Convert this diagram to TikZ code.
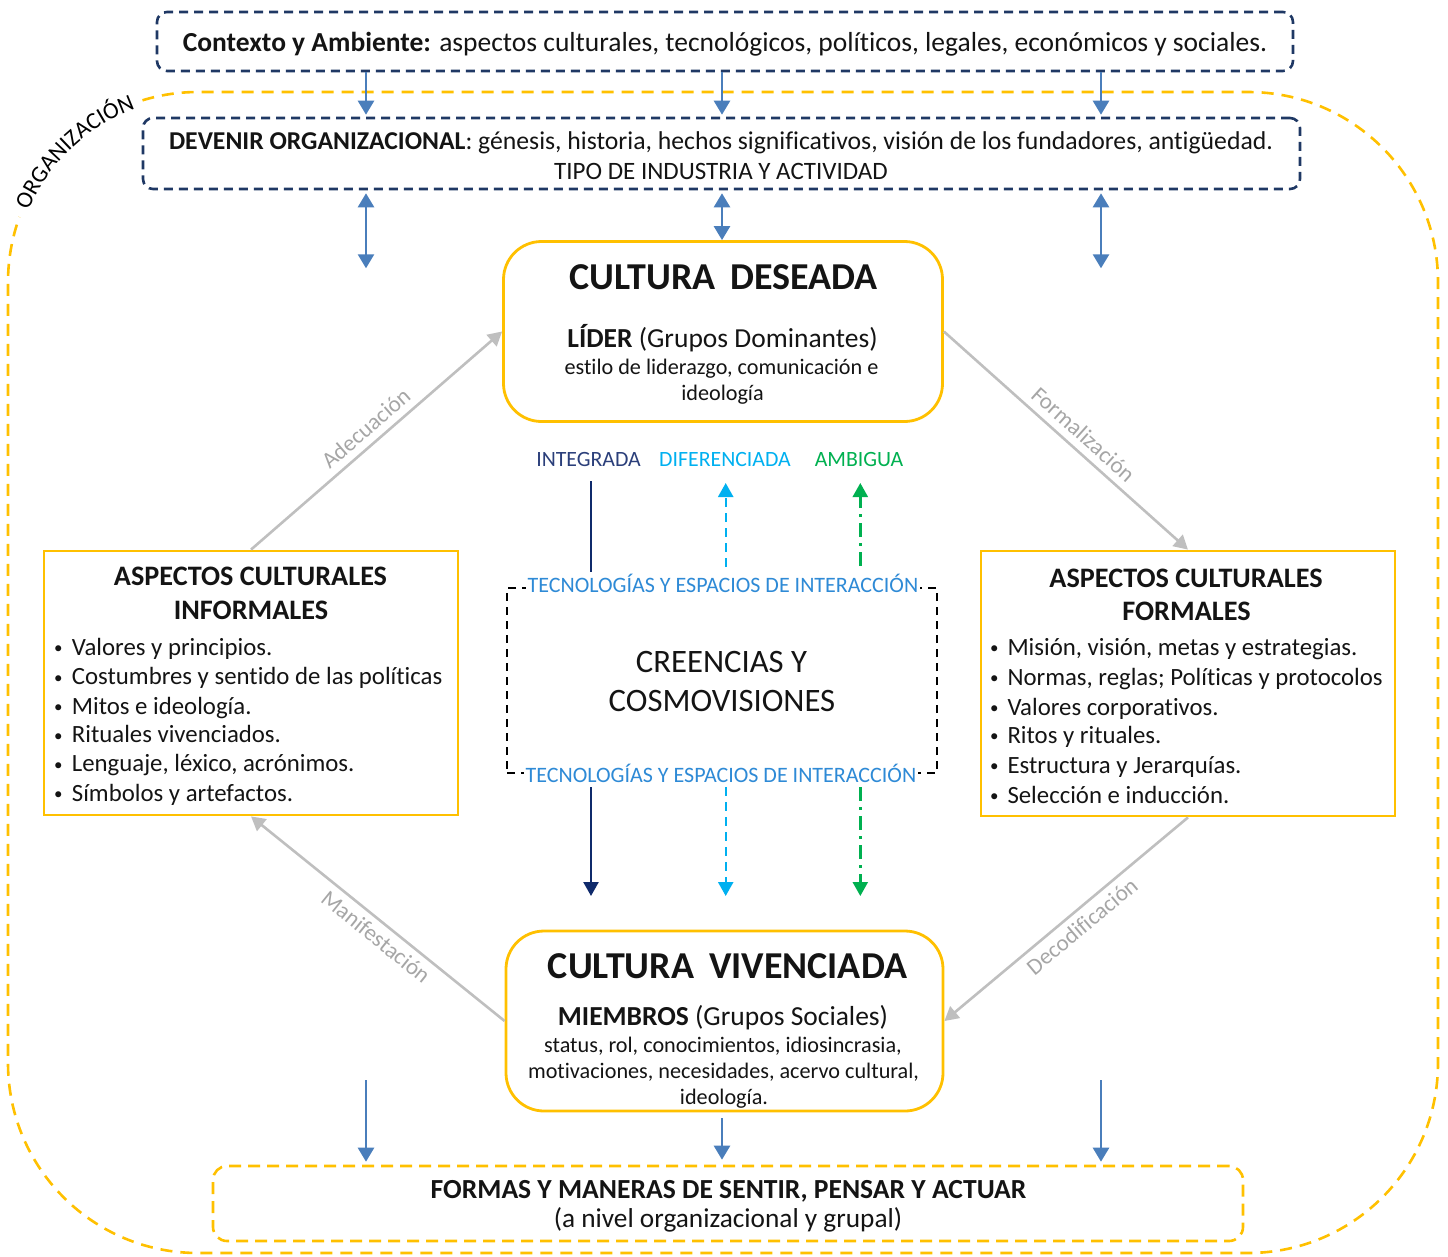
\documentclass[tikz,border=0pt]{standalone}
\usepackage{fontspec}
\setmainfont{Carlito}[Ligatures={NoCommon,NoContextual}]
\usetikzlibrary{arrows.meta,decorations.text}

\definecolor{amber}{HTML}{FFC000}
\definecolor{navydash}{HTML}{1F3864}
\definecolor{flowblue}{HTML}{4A7EBB}
\definecolor{intnavy}{HTML}{0F2A6B}
\definecolor{intlabel}{HTML}{2B3F7A}
\definecolor{difblue}{HTML}{00B0F0}
\definecolor{ambgreen}{HTML}{00B050}
\definecolor{tecblue}{HTML}{2E8AD6}
\definecolor{linkgray}{HTML}{BFBFBF}
\definecolor{linktext}{HTML}{A6A6A6}
\definecolor{ink}{HTML}{141414}

\newcommand\fsz[1]{\fontsize{#1pt}{#1pt}\selectfont}
\newcommand\orgfont{\fontsize{23.5pt}{23.5pt}\selectfont}
\newcommand\bulletmark{\raisebox{1.2pt}{\fsz{17}•}}

\begin{document}
\begin{tikzpicture}[x=1pt,y=-1pt,
  navybox/.style={draw=navydash, line width=2.6pt, dash pattern=on 9pt off 6pt, rounded corners=10pt, inner sep=0pt},
  goldbox/.style={draw=amber, line width=2.8pt, rounded corners=38pt, inner sep=0pt},
  squarebox/.style={draw=amber, line width=2.8pt, inner sep=0pt},
  formasbox/.style={draw=amber, line width=2.6pt, dash pattern=on 12pt off 7pt, rounded corners=14pt, inner sep=0pt},
  beliefbox/.style={draw=black, line width=2pt, dash pattern=on 8pt off 6pt, inner sep=0pt},
  orgline/.style={draw=amber, line width=2.6pt, dash pattern=on 12pt off 8pt},
  txt/.style={inner sep=0pt, anchor=base, text=ink},
  bul/.style={inner sep=0pt, anchor=base west, text=ink, font=\fsz{24.8}},
  flow/.style={draw=flowblue, line width=2.6pt, -{Triangle[width=16pt,length=14pt]}},
  flowboth/.style={draw=flowblue, line width=2.6pt, {Triangle[width=16pt,length=14pt]}-{Triangle[width=16pt,length=14pt]}},
  link/.style={draw=linkgray, line width=2.6pt, -{Triangle[width=15pt,length=14pt]}},
  linklabel/.style={text=linktext, font=\fsz{23}, inner sep=2pt, sloped},
  intline/.style={draw=intnavy, line width=2.4pt},
  difline/.style={draw=difblue, line width=2.4pt, dash pattern=on 9pt off 6pt},
  ambline/.style={draw=ambgreen, line width=2.4pt, dash pattern=on 14pt off 6pt on 3pt off 6pt}
]
\useasboundingbox (0,0) rectangle (1448,1256);

% ---- organization boundary (gap left for its label) ----
\draw[orgline] (142.5,100.3) arc[start angle=253,end angle=270,radius=190]
  -- (1248,92) arc[start angle=270,end angle=360,radius=190]
  -- (1438,1063) arc[start angle=0,end angle=90,radius=190]
  -- (198,1253) arc[start angle=90,end angle=180,radius=190]
  -- (8,282) arc[start angle=180,end angle=200,radius=190];
\path[decorate, decoration={text along path, text={|\orgfont|ORGANIZACIÓN}, text align=center}]
  (25.1,219.1) arc[start angle=200,end angle=253,radius=184];

% ---- column guides for the vertical flows ----
\coordinate (c1) at (366,0);
\coordinate (c2) at (722,0);
\coordinate (c3) at (1101,0);

% ---- context and history ----
\node[navybox, minimum width=1136pt, minimum height=59pt] (ctx) at (725,41.5) {};
\node[txt, font=\fsz{27.5}] (ctxtext) at (725,51.5)
  {\textbf{Contexto y Ambiente:} aspectos culturales, tecnológicos, políticos, legales, económicos y sociales.};

\node[navybox, minimum width=1157pt, minimum height=71pt] (dev) at (721.5,153.5) {};
\node[txt, font=\fsz{25.7}] (devA) at (721,149)
  {\textbf{DEVENIR ORGANIZACIONAL}: génesis, historia, hechos significativos, visión de los fundadores, antigüedad.};
\node[txt, font=\fsz{25}] (devB) at (721,179) {TIPO DE INDUSTRIA Y ACTIVIDAD};

% ---- desired culture ----
\node[goldbox, minimum width=439pt, minimum height=180pt] (deseada) at (723,331.5) {};
\node[txt, font=\fsz{38}\bfseries] (desT) at (723.5,289) {CULTURA\, DESEADA};
\node[txt, font=\fsz{27.5}] (desL) at (722.5,347) {\textbf{LÍDER} (Grupos Dominantes)};
\node[txt, font=\fsz{22.2}] (desA) at (721.5,374) {estilo de liderazgo, comunicación e};
\node[txt, font=\fsz{22.2}] (desB) at (722.5,400) {ideología};

% ---- lived culture ----
\node[goldbox, minimum width=437pt, minimum height=180pt] (viv) at (724.5,1021) {};
\node[txt, font=\fsz{38}\bfseries] (vivT) at (727.5,978) {CULTURA\, VIVENCIADA};
\node[txt, font=\fsz{27.5}] (vivM) at (723,1025) {\textbf{MIEMBROS} (Grupos Sociales)};
\node[txt, font=\fsz{22.2}] (vivA) at (723,1052.7) {status, rol, conocimientos, idiosincrasia,};
\node[txt, font=\fsz{22.2}] (vivB) at (723.5,1078.3) {motivaciones, necesidades, acervo cultural,};
\node[txt, font=\fsz{22.2}] (vivC) at (724,1104) {ideología.};

% ---- informal aspects ----
\node[squarebox, minimum width=414pt, minimum height=264pt] (informal) at (251,683) {};
\node[txt, font=\fsz{28.2}\bfseries] (infT1) at (250.5,585) {ASPECTOS CULTURALES};
\node[txt, font=\fsz{28.2}\bfseries] (infT2) at (251,619) {INFORMALES};
\node[bul] (inf1) at (54,655)   {\makebox[17.7pt][l]{\bulletmark}Valores y principios.};
\node[bul] (inf2) at (54,684.3) {\makebox[17.7pt][l]{\bulletmark}Costumbres y sentido de las políticas};
\node[bul] (inf3) at (54,714)   {\makebox[17.7pt][l]{\bulletmark}Mitos e ideología.};
\node[bul] (inf4) at (54,742.7) {\makebox[17.7pt][l]{\bulletmark}Rituales vivenciados.};
\node[bul] (inf5) at (54,771.7) {\makebox[17.7pt][l]{\bulletmark}Lenguaje, léxico, acrónimos.};
\node[bul] (inf6) at (54,801)   {\makebox[17.7pt][l]{\bulletmark}Símbolos y artefactos.};

% ---- formal aspects ----
\node[squarebox, minimum width=414pt, minimum height=265pt] (formal) at (1188,683.5) {};
\node[txt, font=\fsz{28.2}\bfseries] (forT1) at (1186,587) {ASPECTOS CULTURALES};
\node[txt, font=\fsz{28.2}\bfseries] (forT2) at (1186.5,620) {FORMALES};
\node[bul] (for1) at (990,655) {\makebox[17.3pt][l]{\bulletmark}Misión, visión, metas y estrategias.};
\node[bul] (for2) at (990,685) {\makebox[17.3pt][l]{\bulletmark}Normas, reglas; Políticas y protocolos};
\node[bul] (for3) at (990,715) {\makebox[17.3pt][l]{\bulletmark}Valores corporativos.};
\node[bul] (for4) at (990,743) {\makebox[17.3pt][l]{\bulletmark}Ritos y rituales.};
\node[bul] (for5) at (990,773) {\makebox[17.3pt][l]{\bulletmark}Estructura y Jerarquías.};
\node[bul] (for6) at (990,803) {\makebox[17.3pt][l]{\bulletmark}Selección e inducción.};

% ---- beliefs core ----
\node[beliefbox, minimum width=430pt, minimum height=185pt] (belief) at (722,680.5) {};
\node[txt, font=\fsz{22}, text=tecblue, fill=white, inner xsep=2pt] (tecTop) at (723,592)
  {TECNOLOGÍAS Y ESPACIOS DE INTERACCIÓN};
\node[txt, font=\fsz{22}, text=tecblue, fill=white, inner xsep=2pt] (tecBot) at (721,782.7)
  {TECNOLOGÍAS Y ESPACIOS DE INTERACCIÓN};
\node[txt, font=\fsz{32.7}] (creA) at (721.5,672) {CREENCIAS Y};
\node[txt, font=\fsz{32.7}] (creB) at (722,711) {COSMOVISIONES};

% ---- culture types ----
\node[txt, font=\fsz{21.8}, text=intlabel] (lInt) at (588.5,466) {INTEGRADA};
\node[txt, font=\fsz{21.8}, text=difblue] (lDif) at (725,466) {DIFERENCIADA};
\node[txt, font=\fsz{21.8}, text=ambgreen] (lAmb) at (859,466) {AMBIGUA};

\coordinate (intU1) at (591,481);   \coordinate (intU2) at (591,572);
\coordinate (difU1) at (725.7,567); \coordinate (difU2) at (725.7,483);
\coordinate (ambU1) at (860.3,566); \coordinate (ambU2) at (860.3,483);
\coordinate (intD1) at (591,787);   \coordinate (intD2) at (591,896);
\coordinate (difD1) at (725.7,787); \coordinate (difD2) at (725.7,896);
\coordinate (ambD1) at (860.3,787); \coordinate (ambD2) at (860.3,896);

\draw[intline] (intU1) -- (intU2);
\draw[difline, -{Triangle[width=15pt,length=14pt,fill=difblue]}] (difU1) -- (difU2);
\draw[ambline, -{Triangle[width=15pt,length=14pt,fill=ambgreen]}] (ambU1) -- (ambU2);
\draw[intline, -{Triangle[width=15pt,length=14pt,fill=intnavy]}] (intD1) -- (intD2);
\draw[difline, -{Triangle[width=15pt,length=14pt,fill=difblue]}] (difD1) -- (difD2);
\draw[ambline, -{Triangle[width=15pt,length=14pt,fill=ambgreen]}] (ambD1) -- (ambD2);

% ---- ways of feeling, thinking and acting ----
\node[formasbox, minimum width=1030pt, minimum height=75pt] (formas) at (728,1203.5) {};
\node[txt, font=\fsz{27.6}\bfseries] (forA) at (728.5,1198) {FORMAS Y MANERAS DE SENTIR, PENSAR Y ACTUAR};
\node[txt, font=\fsz{27.3}] (forB) at (728,1227) {(a nivel organizacional y grupal)};

% ---- blue flows ----
\coordinate (e1) at (366,268.3);
\coordinate (e3) at (1101,268.3);
\coordinate (s1) at (366,1080);
\coordinate (s3) at (1101,1080);

\draw[flow, shorten >=2pt] (ctx.south -| c1) -- (dev.north -| c1);
\draw[flow, shorten >=2pt] (ctx.south -| c2) -- (dev.north -| c2);
\draw[flow, shorten >=2pt] (ctx.south -| c3) -- (dev.north -| c3);
\draw[flowboth, shorten <=3pt] (dev.south -| c1) -- (e1);
\draw[flowboth, shorten <=3pt] (dev.south -| c2) -- (deseada.north -| c2);
\draw[flowboth, shorten <=3pt] (dev.south -| c3) -- (e3);
\draw[flow, shorten >=3pt] (s1) -- (formas.north -| c1);
\draw[flow, shorten <=6pt, shorten >=5pt] (viv.south -| c2) -- (formas.north -| c2);
\draw[flow, shorten >=3pt] (s3) -- (formas.north -| c3);

% ---- gray cycle ----
\draw[link] (informal.north) -- node[linklabel, above=5pt, pos=0.5] {Adecuación} (deseada.west);
\draw[link] (deseada.east) -- node[linklabel, above=5pt, pos=0.527] {Formalización} (formal.north);
\draw[link] (formal.south) -- node[linklabel, below=4pt, pos=0.476] {Decodificación} (viv.east);
\draw[link] (viv.west) -- node[linklabel, below=4pt, pos=0.469] {Manifestación} (informal.south);

\end{tikzpicture}
\end{document}
